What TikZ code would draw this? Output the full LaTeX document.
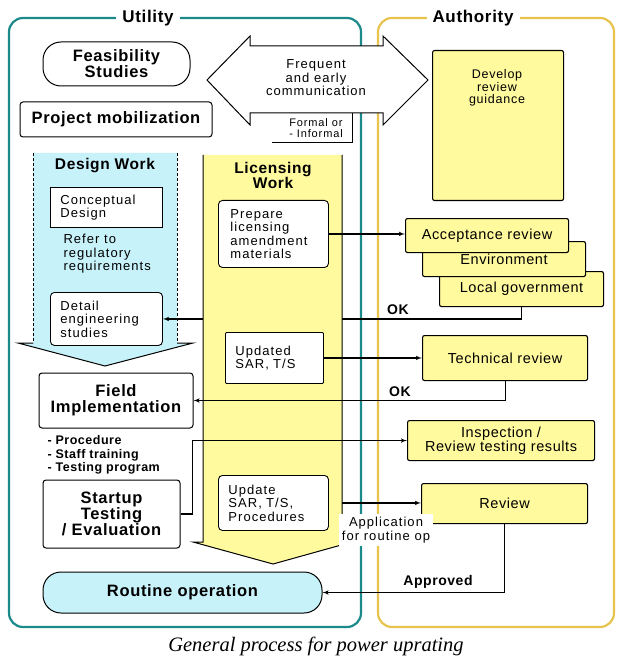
\documentclass[tikz,border=0pt]{standalone}
\usepackage{fontspec}
\setmainfont[LetterSpace=4]{Liberation Sans}
\newfontfamily\capfont{Liberation Serif}
\usetikzlibrary{arrows}
\definecolor{utilteal}{RGB}{28,138,138}
\definecolor{authgold}{RGB}{232,195,78}
\definecolor{paleyellow}{RGB}{255,250,158}
\definecolor{palecyan}{RGB}{200,242,250}
\pgfdeclarelayer{back}
\pgfdeclarelayer{mid}
\pgfsetlayers{back,mid,main}

\tikzset{
  zone/.style={line width=2.2pt, rounded corners=14pt},
  ttl/.style={fill=white, inner xsep=6pt, font=\fontsize{17}{17}\selectfont\bfseries},
  hdr/.style={align=center, font=\fontsize{15.5}{15}\selectfont\bfseries},
  ubox/.style={draw, fill=white, line width=1pt, rounded corners=3pt, align=center,
    font=\fontsize{16.5}{15.8}\selectfont\bfseries},
  plaintxt/.style={font=\fontsize{13}{13.5}\selectfont\addfontfeature{LetterSpace=8}},
  sbox/.style={plaintxt, draw, fill=white, line width=0.9pt, rounded corners=4pt,
    anchor=north west, align=left, inner xsep=10pt, inner ysep=3pt},
  abox/.style={draw, fill=paleyellow, line width=1.1pt, rounded corners=2pt, anchor=north west,
    align=center, font=\fontsize{14.5}{14}\selectfont},
  steps/.style={align=left, font=\fontsize{12.5}{13.5}\selectfont\bfseries},
  flag/.style={font=\fontsize{14}{14}\selectfont\bfseries},
  link/.style={line width=1.1pt, ->, >=latex'},
}

\begin{document}
\begin{tikzpicture}[x=1pt,y=-1pt]
\useasboundingbox (0,0) rectangle (617,660);

% the two frames and the design work arrow
\begin{pgfonlayer}{back}
\draw[zone, utilteal] (9,18) rectangle (361,627);
\draw[zone, authgold] (378,18) rectangle (614,627);
\fill[palecyan] (33,153) -- (177,153) -- (177,343) -- (193,343) -- (105,366) -- (18,343) -- (33,343) -- cycle;
\draw[line width=1pt, densely dashed] (33,153) -- (33,343) (177,153) -- (177,343);
\draw[line width=1pt] (33,343) -- (18,343) -- (105,366) -- (193,343) -- (177,343);
\end{pgfonlayer}
\node[ttl] (util) at (148,18) {Utility};
\node[ttl] (auth) at (473,18) {Authority};

% utility
\node[ubox, rounded corners=18pt, minimum width=147pt, minimum height=44pt] (feas) at (116.5,64) {Feasibility\\Studies};
\node[ubox, minimum width=192pt, minimum height=35pt] (mob) at (116,119.5) {Project mobilization};

% communication
\filldraw[fill=white, line width=1pt] (207,80) -- (250,36) -- (250,46) -- (383,46) -- (383,36) -- (428,80)
  -- (383,125) -- (383,113) -- (250,113) -- (250,125) -- cycle;
\node[plaintxt, align=center] (comm) at (316,78) {Frequent\\and early\\communication};
\node[plaintxt, font=\fontsize{11}{11.5}\selectfont\addfontfeature{LetterSpace=8}, align=left] (formal) at (316,128) {Formal or\\- Informal};
\draw[line width=0.8pt] (272,142) -| (352,113);

% design work
\node[hdr] (dw) at (105,166) {Design Work};
\node[sbox, rounded corners=0pt, text width=92pt, minimum height=40pt] (concept) at (50,187) {Conceptual\\Design};
\node[plaintxt, anchor=north west, align=left] (refer) at (60,231) {Refer to\\regulatory\\requirements};
\node[sbox, text width=92pt, minimum height=53pt] (detail) at (50,292) {Detail\\engineering\\studies};

% licensing work
\coordinate (licR) at (342,0);
\fill[paleyellow] (203,155) -- (203,542) -- (193,542) -- (273,564) -- (352,542) -- (342,542) -- (342,155) -- cycle;
\draw[line width=1pt] (203,155) -- (203,542) -- (193,542) -- (273,564) -- (352,542) -- (342,542) -- (342,155);
\node[hdr] (lw) at (273,175) {Licensing\\Work};
\node[sbox, inner xsep=12pt, text width=86pt, minimum height=67pt] (prep) at (218,200) {Prepare\\licensing\\amendment\\materials};
\node[sbox, rounded corners=1pt, text width=78pt, minimum height=51pt] (upd) at (225,332) {Updated\\SAR, T/S};
\node[sbox, text width=90pt, minimum height=55pt] (updp) at (218,475) {Update\\SAR, T/S,\\Procedures};

\node[ubox, minimum width=154pt, minimum height=55pt] (field) at (116,400.5) {Field\\Implementation};
\node[steps, anchor=north west] (todo) at (44,432) {- Procedure\\- Staff training\\- Testing program};
\node[ubox, minimum width=137pt, minimum height=68pt] (startup) at (111.5,514) {Startup\\Testing\\/ Evaluation};
\node[ubox, fill=palecyan, rounded corners=18pt, minimum width=279pt, minimum height=41pt] (routine) at (182.5,592.5) {Routine operation};

% authority
\node[abox, minimum width=131pt, minimum height=150pt] (guide) at (432,50) {};
\node[plaintxt, font=\fontsize{12.5}{12.5}\selectfont\addfontfeature{LetterSpace=6}, align=center] (guidetxt) at (497,88) {Develop\\review\\guidance};
\node[abox, minimum width=164pt, minimum height=35pt] (local) at (439,271) {\raisebox{-4pt}{Local government}};
\node[abox, minimum width=163pt, minimum height=35pt] (env) at (422,241) {\raisebox{-4.5pt}{Environment}};
\node[abox, minimum width=163pt, minimum height=34pt] (acc) at (405,218) {Acceptance review};
\node[abox, minimum width=165pt, minimum height=45pt] (tech) at (422,335) {Technical review};
\node[abox, minimum width=187pt, minimum height=40pt] (insp) at (407,420) {Inspection /\\Review testing results};
\node[abox, minimum width=166pt, minimum height=40pt] (rev) at (421,483) {Review};

% connectors
\draw[link] (prep.east) -- (prep.east -| acc.west);
\draw[link] (upd.east) -- (upd.east -| tech.west);
\draw[link] (tech.south) |- (field.east);
\draw[link] (startup.east) -- ++(12,0) |- (insp.west);
\draw[link] (updp.east -| licR) -- (updp.east -| rev.west);
\draw[link] (rev.south) |- (routine.east);
\node[flag] (ok1) at (398,310) {OK};
\node[flag] (ok2) at (400,392) {OK};
\node[flag] (appr) at (438,582) {Approved};
\node[plaintxt, fill=white, align=center, inner sep=3pt] (appl) at (386,530) {Application\\for routine op};

\node[font=\fontsize{20.5}{22}\selectfont\capfont\itshape] (cap) at (316,646) {General process for power uprating};

\begin{pgfonlayer}{mid}
\draw[link] (local.south) |- (detail.east);
\end{pgfonlayer}
\end{tikzpicture}
\end{document}
